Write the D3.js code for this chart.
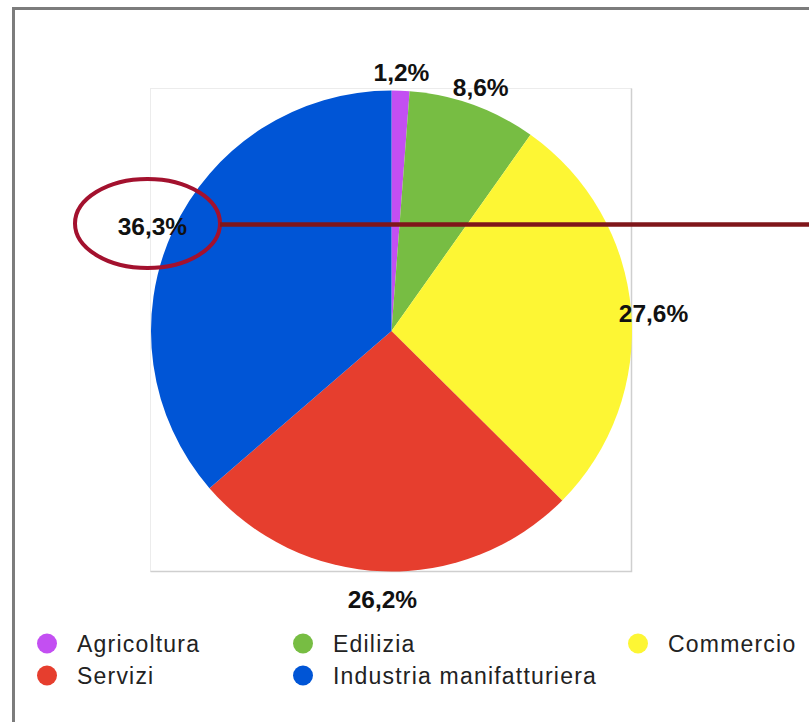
<!DOCTYPE html>
<html>
<head>
<meta charset="utf-8">
<script src="https://cdn.jsdelivr.net/npm/d3@7/dist/d3.min.js"></script>
<style>
  html, body { margin: 0; padding: 0; background: #ffffff; }
  svg { display: block; }
</style>
</head>
<body>
<script>
// Employment share by sector (percent)
const categories = ["Agricoltura", "Edilizia", "Commercio", "Servizi", "Industria manifatturiera"];
const shares = [1.2, 8.6, 27.6, 26.2, 36.3];
const sliceColors = ["#c34ff2", "#77bd43", "#fdf634", "#e63e2e", "#0055d6"];
// Legend is laid out row by row, three entries per row
const legendColumns = 3;

const W = 809, H = 722;
const cx = 391.5, cy = 331, radius = 240.5;

const itFormat = d3.formatLocale({ decimal: ",", thousands: ".", grouping: [3], currency: ["", "€"] }).format(".1f");

const svg = d3.select("body").append("svg")
  .attr("width", W).attr("height", H);

// outer frame (open on the right and bottom)
svg.append("path")
  .attr("d", `M13.5,${H} L13.5,8.5 L${W},8.5`)
  .attr("fill", "none")
  .attr("stroke", "#7c7c7c")
  .attr("stroke-width", 3);

// plot-area box behind the pie
svg.append("rect")
  .attr("x", 150.5).attr("y", 88.5)
  .attr("width", 481).attr("height", 483)
  .attr("fill", "#ffffff")
  .attr("stroke", "#ececec")
  .attr("stroke-width", 1);
svg.append("path")
  .attr("d", "M631.5,88.5 L631.5,571.5 L150.5,571.5")
  .attr("fill", "none")
  .attr("stroke", "#cfcfcf")
  .attr("stroke-width", 1.5);

const pie = d3.pie().sort(null).value(d => d);
const arcs = pie(shares);
const arc = d3.arc().innerRadius(0).outerRadius(radius);

const g = svg.append("g").attr("transform", `translate(${cx},${cy})`);
g.selectAll("path.slice")
  .data(arcs)
  .join("path")
  .attr("class", "slice")
  .attr("d", arc)
  .attr("fill", (d, i) => sliceColors[i]);

// percentage labels just outside the rim
const labelRx = 263, labelRy = 259;
g.selectAll("text.pct")
  .data(arcs)
  .join("text")
  .attr("class", "pct")
  .attr("x", d => labelRx * Math.sin((d.startAngle + d.endAngle) / 2))
  .attr("y", d => {
    const a = (d.startAngle + d.endAngle) / 2;
    return -labelRy * Math.cos(a) + 4.5 * (1 - Math.cos(a));
  })
  .attr("dy", "0.36em")
  .attr("text-anchor", "middle")
  .attr("font-family", "'Liberation Sans', Arial, Helvetica, sans-serif")
  .attr("font-weight", "bold")
  .attr("font-size", 24.5)
  .attr("fill", "#111111")
  .text(d => itFormat(d.data) + "%");

// highlight annotation around the largest share
svg.append("ellipse")
  .attr("cx", 147.5).attr("cy", 223.5)
  .attr("rx", 72.5).attr("ry", 44.5)
  .attr("fill", "none")
  .attr("stroke", "#a3112e")
  .attr("stroke-width", 4);
svg.append("line")
  .attr("x1", 220).attr("x2", W)
  .attr("y1", 224.5).attr("y2", 224.5)
  .attr("stroke", "#7f161a")
  .attr("stroke-width", 4.5);

// legend
const colX = [47, 303, 638];
const rowY = [643.5, 675.5];
const legend = svg.append("g")
  .selectAll("g")
  .data(categories)
  .join("g")
  .attr("transform", (d, i) => `translate(${colX[i % legendColumns]},${rowY[Math.floor(i / legendColumns)]})`);
legend.append("circle")
  .attr("r", 10)
  .attr("fill", (d, i) => sliceColors[i]);
legend.append("text")
  .attr("x", 30)
  .attr("dy", "0.36em")
  .attr("font-family", "'Liberation Sans', Arial, Helvetica, sans-serif")
  .attr("font-size", 23)
  .attr("letter-spacing", 1.2)
  .attr("fill", "#222222")
  .text(d => d);
</script>
</body>
</html>
